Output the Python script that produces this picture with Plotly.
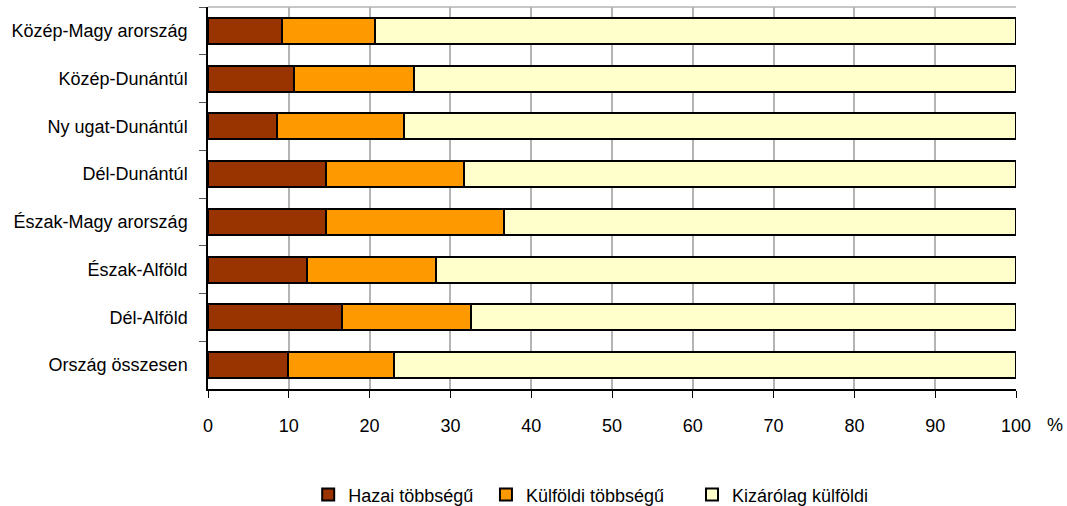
import plotly.graph_objects as go

regions = ["Közép-Magy arország", "Közép-Dunántúl", "Ny ugat-Dunántúl", "Dél-Dunántúl",
           "Észak-Magy arország", "Észak-Alföld", "Dél-Alföld", "Ország összesen"]
hazai = [9.1, 10.6, 8.6, 14.6, 14.6, 12.3, 16.6, 9.9]
kulfoldi_tobbsegu = [11.6, 14.9, 15.6, 17.1, 22.0, 15.9, 16.0, 13.1]
kizarolag = [79.3, 74.5, 75.8, 68.3, 63.4, 71.8, 67.4, 77.0]
x_ticks = [0, 10, 20, 30, 40, 50, 60, 70, 80, 90, 100]

series = [("Hazai többségű", hazai, "#993300", "legend", 0.124),
          ("Külföldi többségű", kulfoldi_tobbsegu, "#FF9900", "legend2", 0.344),
          ("Kizárólag külföldi", kizarolag, "#FFFFCC", "legend3", 0.599)]

FONT = "Liberation Sans, Arial, sans-serif"
FS = 18

fig = go.Figure()
legends = {}
for name, vals, col, lg, lx in series:
    fig.add_trace(go.Bar(
        y=regions, x=vals, name=name, orientation="h", legend=lg,
        marker=dict(color=col, line=dict(color="#000000", width=2)),
    ))
    legends[lg] = dict(orientation="h", x=lx, xanchor="left", y=-0.277, yanchor="middle",
                       font=dict(family=FONT, size=FS), itemwidth=30,
                       bgcolor="rgba(0,0,0,0)")

fig.update_layout(
    barmode="stack",
    bargap=0.46,
    width=1067, height=506,
    margin=dict(l=208, r=51, t=7, b=117, autoexpand=False),
    paper_bgcolor="white", plot_bgcolor="white",
    font=dict(family=FONT, size=FS, color="#000000"),
    showlegend=True,
    xaxis=dict(range=[0, 100], tickvals=x_ticks, ticktext=[str(v) for v in x_ticks],
               showgrid=True, gridcolor="#b4b4b4", gridwidth=1.5,
               showline=True, linecolor="#000000", linewidth=1.5,
               ticks="outside", ticklen=7, tickcolor="#000000",
               ticklabelstandoff=13, zeroline=False, fixedrange=True),
    yaxis=dict(categoryorder="array", categoryarray=regions, autorange="reversed",
               showline=True, linecolor="#000000", linewidth=1.5,
               ticks="outside", ticklen=7, tickcolor="#555555", tickson="boundaries",
               ticklabelstandoff=15, showgrid=False, zeroline=False),
    **legends,
)

fig.add_shape(type="line", xref="paper", yref="paper", x0=0, x1=1, y0=1, y1=1,
              line=dict(color="#b4b4b4", width=1.5))
fig.add_annotation(text="%", xref="paper", yref="paper", x=1.048, y=-0.095,
                   xanchor="center", yanchor="middle", showarrow=False,
                   font=dict(family=FONT, size=FS))

fig.write_html("out.html", config={"displayModeBar": False},
               post_script="document.body.style.margin='0';document.body.style.overflow='hidden';")
